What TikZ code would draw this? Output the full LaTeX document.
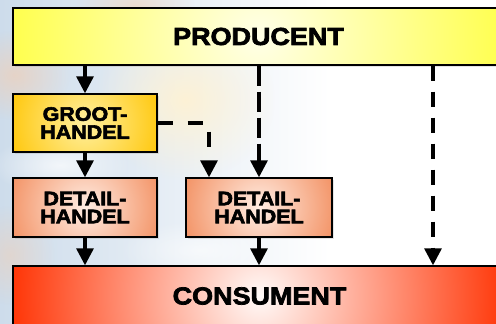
\documentclass[tikz,border=0pt]{standalone}
\usepackage{fontspec}
\newfontfamily\heavyfont{Liberation Sans}[UprightFont=* Bold, FakeBold=3, FakeStretch=1.1]
\usetikzlibrary{arrows.meta,fadings,shadows}

\tikzfading[name=softblob, inner color=transparent!0, outer color=transparent!100]

\definecolor{skyblue}{RGB}{205,220,235}
\definecolor{skypeach}{RGB}{245,205,175}
\definecolor{skyglow}{RGB}{255,242,210}
\definecolor{prodin}{RGB}{255,255,232}
\definecolor{prodout}{RGB}{255,255,75}
\definecolor{grootin}{RGB}{255,240,160}
\definecolor{grootout}{RGB}{255,196,0}
\definecolor{detin}{RGB}{255,236,226}
\definecolor{detout}{RGB}{242,140,92}
\definecolor{consin}{RGB}{255,250,248}
\definecolor{consout}{RGB}{255,48,0}

\tikzset{
  ringfill/.style n args={3}{path picture={
      \shade[inner color=#1, outer color=#2]
        (path picture bounding box.center) circle[radius=#3];}},
  stagebox/.style={draw=black, line width=1.4pt, inner sep=0pt, align=center,
      text=black,
      drop shadow={shadow xshift=2pt, shadow yshift=-2pt, opacity=0.2}},
  bigtext/.style={font=\heavyfont\fontsize{24.5}{25}\selectfont},
  smalltext/.style={font=\heavyfont\fontsize{19.5}{18}\selectfont},
  flow/.style={line width=3.2pt, -{Triangle[width=17pt,length=17pt]}},
  longdash/.style={dash pattern=on 20pt off 6pt},
  shortdash/.style={dash pattern=on 15pt off 11pt},
}

\begin{document}
\begin{tikzpicture}[x=1pt, y=-1pt]
\useasboundingbox (0,0) rectangle (496,324);
\begin{scope}
\clip (0,0) rectangle (496,324);

% sky backdrop on the left, fading to white
\fill[white] (0,0) rectangle (496,324);
\shade[left color=skyblue, right color=white] (0,0) rectangle (330,324);
\fill[skypeach, path fading=softblob, opacity=0.6] (15,75) ellipse (55 and 45);
\fill[skypeach, path fading=softblob, opacity=0.5] (135,5) ellipse (60 and 25);
\fill[skyglow, path fading=softblob, opacity=0.9] (185,100) ellipse (90 and 80);
\fill[skypeach, path fading=softblob, opacity=0.45] (10,255) ellipse (45 and 50);
\fill[white, path fading=softblob, opacity=0.7] (60,165) ellipse (70 and 30);
\fill[white, path fading=softblob, opacity=0.6] (200,250) ellipse (80 and 30);

% stages
\node[stagebox, bigtext, ringfill={prodin}{prodout}{252pt},
      minimum width=491pt, minimum height=57pt] (prod) at (258.5,36.5) {PRODUCENT};
\node[stagebox, smalltext, ringfill={grootin}{grootout}{85pt},
      minimum width=144pt, minimum height=58pt] (groot) at (85,123) {GROOT-\\HANDEL};
\node[stagebox, smalltext, ringfill={detin}{detout}{85pt},
      minimum width=144pt, minimum height=59pt] (det1) at (85,207.5) {DETAIL-\\HANDEL};
\node[stagebox, smalltext, ringfill={detin}{detout}{85pt},
      minimum width=146pt, minimum height=59pt] (det2) at (259,207.5) {DETAIL-\\HANDEL};
\node[stagebox, bigtext, ringfill={consin}{consout}{255pt},
      minimum width=493pt, minimum height=60pt] (cons) at (259.5,296) {CONSUMENT};

% helper points for the dashed routes
\coordinate (side) at (433,0);
\coordinate (turn) at ([xshift=-50pt]det2.north);

% solid flows
\draw[flow] (prod.south -| groot) -- (groot.north);
\draw[flow] (groot.south) -- (det1.north);
\draw[flow] (det1.south) -- (cons.north -| det1);
\draw[flow] (det2.south) -- (cons.north -| det2);

% dashed flows
\draw[flow, longdash] (prod.south -| det2) -- (det2.north);
\draw[flow, shortdash] (prod.south -| side) -- (cons.north -| side);
\draw[flow, dash pattern=on 15pt off 15pt] (groot.east) -| (turn);
\end{scope}
\end{tikzpicture}
\end{document}
